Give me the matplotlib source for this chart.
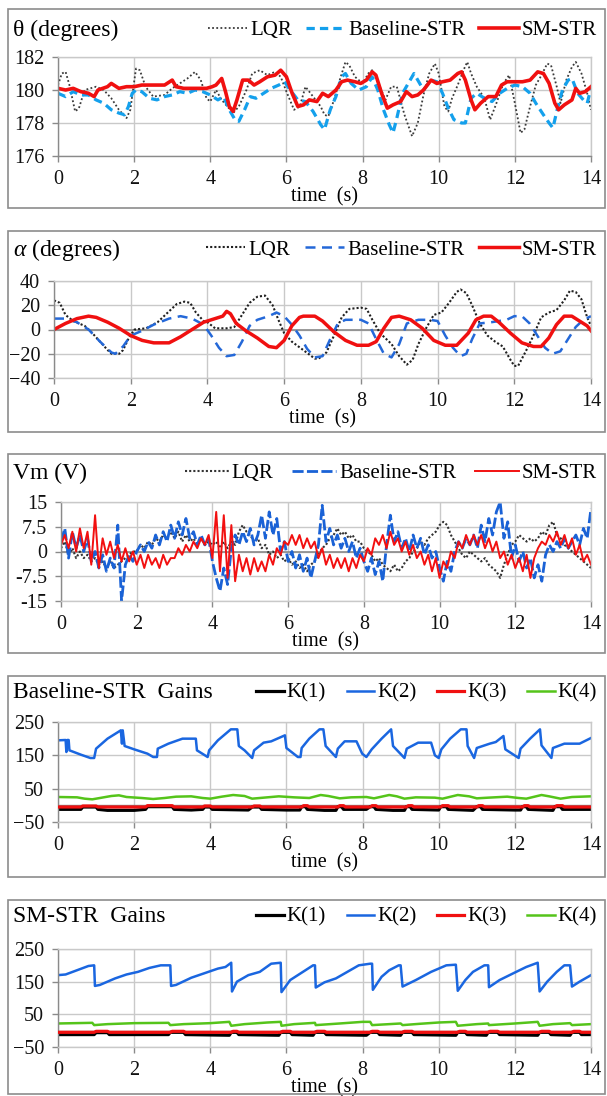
import numpy as np
import matplotlib
matplotlib.use("Agg")
import matplotlib.pyplot as plt
from matplotlib.patches import Rectangle

plt.rcParams['font.family'] = ['Liberation Serif', 'DejaVu Serif']
plt.rcParams['mathtext.fontset'] = 'custom'
plt.rcParams['mathtext.rm'] = 'Liberation Serif'
plt.rcParams['mathtext.it'] = 'Liberation Serif:italic'

W, H = 607, 1096

# ---------------- theta (degrees): (time, value) ----------------
theta_lqr = [(0, 180.3), (0.1, 181.0), (0.2, 181.1), (0.3, 180.3), (0.45, 178.7), (0.55, 178.9),
             (0.7, 180.0), (0.85, 180.1), (1.0, 180.2), (1.2, 180.0), (1.4, 179.5), (1.6, 178.8),
             (1.8, 178.3), (1.9, 178.8), (2.0, 180.5), (2.05, 181.3), (2.15, 181.2), (2.3, 180.2),
             (2.5, 179.6), (2.8, 179.7), (3.0, 180.1), (3.2, 180.4), (3.4, 180.7), (3.6, 181.1),
             (3.75, 180.6), (3.9, 179.5), (4.0, 179.3), (4.15, 180.0), (4.3, 179.4), (4.45, 179.0),
             (4.6, 178.6), (4.75, 179.0), (4.95, 180.0), (5.1, 181.0), (5.3, 181.2), (5.5, 180.9),
             (5.7, 181.1), (5.85, 180.8), (6.0, 179.9), (6.2, 178.8), (6.35, 179.0), (6.5, 180.2),
             (6.7, 179.6), (6.9, 179.0), (7.0, 178.5), (7.1, 178.4), (7.25, 179.4), (7.4, 180.6),
             (7.55, 181.7), (7.65, 181.5), (7.8, 180.8), (8.0, 180.4), (8.15, 181.0), (8.25, 181.2),
             (8.4, 180.5), (8.6, 179.4), (8.75, 180.2), (8.9, 180.2), (9.1, 178.5), (9.3, 177.2),
             (9.45, 178.0), (9.6, 179.7), (9.75, 181.0), (9.9, 181.6), (10.0, 181.0), (10.15, 179.0),
             (10.25, 178.7), (10.35, 179.5), (10.5, 180.3), (10.65, 181.2), (10.75, 181.7), (10.85, 181.0),
             (11.0, 180.2), (11.2, 179.5), (11.35, 178.2), (11.5, 179.1), (11.7, 180.4), (11.85, 180.9),
             (12.0, 179.2), (12.15, 177.4), (12.25, 177.6), (12.4, 179.0), (12.55, 180.3), (12.7, 180.9),
             (12.85, 181.6), (12.95, 181.5), (13.1, 180.2), (13.2, 179.2), (13.35, 180.6), (13.5, 181.4),
             (13.6, 181.7), (13.75, 181.0), (13.9, 179.8), (14.0, 178.8)]

theta_base = [(0, 179.8), (0.2, 179.6), (0.4, 179.9), (0.6, 179.7), (0.8, 179.7), (1.0, 179.4),
              (1.2, 179.2), (1.4, 178.8), (1.6, 178.6), (1.75, 178.5), (1.85, 179.0), (1.95, 179.8),
              (2.05, 180.0), (2.2, 179.9), (2.4, 179.5), (2.6, 179.4), (2.8, 179.6), (3.0, 179.7),
              (3.2, 179.9), (3.4, 179.8), (3.6, 180.0), (3.8, 179.9), (4.0, 179.7), (4.2, 179.4),
              (4.35, 179.6), (4.5, 178.8), (4.65, 178.2), (4.75, 178.1), (4.9, 178.8), (5.05, 179.6),
              (5.2, 179.5), (5.4, 179.8), (5.6, 180.1), (5.8, 180.3), (5.95, 180.5), (6.1, 180.0),
              (6.3, 179.4), (6.5, 179.3), (6.7, 178.7), (6.9, 177.9), (7.0, 177.6), (7.15, 178.8),
              (7.3, 179.6), (7.45, 180.8), (7.55, 181.0), (7.7, 180.4), (7.9, 180.0), (8.1, 180.2),
              (8.25, 180.8), (8.4, 180.0), (8.55, 178.8), (8.7, 177.9), (8.8, 177.4), (8.9, 178.3),
              (9.05, 179.8), (9.2, 180.4), (9.35, 181.0), (9.45, 180.6), (9.6, 180.0), (9.8, 180.6),
              (9.95, 180.5), (10.1, 179.8), (10.25, 178.9), (10.4, 178.2), (10.6, 178.0), (10.7, 178.0),
              (10.85, 179.5), (11.0, 179.8), (11.2, 179.5), (11.4, 179.3), (11.6, 179.8), (11.8, 180.1),
              (12.0, 180.3), (12.2, 180.2), (12.4, 179.8), (12.55, 179.2), (12.75, 178.5), (12.9, 178.0),
              (13.0, 177.7), (13.1, 178.7), (13.25, 180.0), (13.4, 180.6), (13.5, 180.7), (13.65, 179.8),
              (13.8, 179.4), (13.9, 179.2), (14.0, 180.1)]

theta_sm = [(0, 180.1), (0.2, 180.0), (0.4, 180.1), (0.6, 179.9), (0.8, 179.8), (0.95, 179.6),
            (1.05, 180.0), (1.3, 180.2), (1.4, 180.4), (1.6, 180.1), (1.8, 180.2), (2.0, 180.2),
            (2.2, 180.3), (2.5, 180.3), (2.8, 180.3), (3.0, 180.6), (3.1, 180.2), (3.3, 180.1),
            (3.6, 180.1), (3.9, 180.1), (4.05, 180.2), (4.15, 180.3), (4.3, 180.7), (4.4, 179.9),
            (4.5, 179.0), (4.6, 178.7), (4.7, 179.4), (4.85, 180.6), (5.0, 180.6), (5.15, 180.3),
            (5.3, 180.5), (5.5, 180.8), (5.7, 180.9), (5.85, 181.2), (6.0, 180.8), (6.15, 179.8),
            (6.3, 179.0), (6.45, 179.1), (6.6, 179.4), (6.8, 179.3), (6.95, 179.8), (7.1, 179.6),
            (7.3, 180.0), (7.45, 180.5), (7.6, 180.6), (7.8, 180.5), (7.95, 180.4), (8.1, 180.6),
            (8.25, 181.1), (8.35, 180.9), (8.5, 179.8), (8.65, 178.9), (8.8, 179.1), (9.0, 179.3),
            (9.15, 179.9), (9.3, 179.6), (9.45, 179.7), (9.6, 180.0), (9.8, 180.6), (9.95, 180.4),
            (10.1, 180.5), (10.3, 180.6), (10.5, 181.0), (10.6, 181.1), (10.7, 180.6), (10.85, 179.4),
            (10.95, 178.8), (11.1, 179.2), (11.3, 179.6), (11.5, 179.6), (11.65, 180.3), (11.8, 180.5),
            (12.0, 180.5), (12.2, 180.5), (12.4, 180.6), (12.6, 181.1), (12.75, 181.0), (12.9, 180.4),
            (13.05, 179.2), (13.15, 178.8), (13.3, 179.1), (13.5, 179.4), (13.6, 180.1), (13.7, 179.8),
            (13.85, 179.9), (14.0, 180.2)]

# ---------------- alpha (degrees) ----------------
alpha_lqr = [(0, 24), (0.15, 22), (0.3, 12), (0.5, 7), (0.8, 3), (1.0, -3), (1.2, -10), (1.4, -17),
             (1.5, -20), (1.7, -20), (1.8, -17), (1.95, -7), (2.1, 0), (2.4, 1), (2.7, 6), (3.0, 15),
             (3.2, 21), (3.4, 23), (3.55, 22), (3.7, 14), (3.9, 7), (4.0, 6), (4.2, 1), (4.5, 1),
             (4.7, 2), (4.9, 12), (5.1, 22), (5.3, 27), (5.5, 28), (5.7, 20), (5.85, 8), (6.0, -3),
             (6.2, -10), (6.5, -17), (6.8, -24), (6.9, -24), (7.1, -19), (7.3, -5), (7.5, 10),
             (7.7, 17), (8.0, 18), (8.15, 17), (8.3, 8), (8.5, -3), (8.8, -12), (9.0, -22), (9.2, -29),
             (9.35, -25), (9.5, -12), (9.7, 1), (9.9, 12), (10.1, 14), (10.3, 22), (10.5, 31),
             (10.6, 33), (10.75, 30), (10.9, 20), (11.1, 5), (11.3, -5), (11.5, -10), (11.7, -14),
             (11.9, -25), (12.0, -30), (12.1, -30), (12.3, -18), (12.5, -5), (12.7, 10), (12.9, 14),
             (13.1, 16), (13.3, 24), (13.45, 32), (13.6, 31), (13.75, 25), (13.9, 10), (14.0, 3)]

alpha_base = [(0, 9), (0.3, 9), (0.6, 6), (0.9, 0), (1.2, -10), (1.5, -19), (1.6, -20), (1.8, -14),
              (2.0, -5), (2.3, -1), (2.6, 4), (3.0, 9), (3.3, 11), (3.6, 9), (3.9, 4), (4.1, -5),
              (4.3, -15), (4.5, -22), (4.7, -21), (4.9, -10), (5.1, 3), (5.3, 8), (5.6, 11), (5.8, 14),
              (6.0, 11), (6.2, 4), (6.4, -5), (6.6, -16), (6.8, -23), (7.0, -22), (7.2, -8), (7.4, 5),
              (7.6, 8), (8.0, 8), (8.2, 5), (8.4, -8), (8.6, -20), (8.8, -23), (9.0, -12), (9.2, 5),
              (9.5, 8), (9.8, 8), (10.0, 7), (10.2, -5), (10.4, -15), (10.6, -22), (10.75, -20),
              (10.9, -8), (11.1, 5), (11.4, 6), (11.8, 8), (12.0, 11), (12.2, 11), (12.4, 5), (12.6, -5),
              (12.8, -15), (13.0, -20), (13.2, -18), (13.4, -8), (13.6, 2), (13.8, 8), (14.0, 11)]

alpha_sm = [(0, 0), (0.3, 5), (0.6, 9), (0.9, 11), (1.1, 10), (1.4, 6), (1.7, 1), (2.0, -5), (2.3, -9),
            (2.6, -11), (3.0, -11), (3.3, -6), (3.6, 0), (3.9, 6), (4.2, 9), (4.4, 11), (4.5, 15),
            (4.6, 13), (4.75, 5), (5.0, -1), (5.3, -7), (5.6, -14), (5.8, -15), (6.0, -9), (6.2, 3),
            (6.4, 10), (6.5, 11), (6.8, 11), (7.0, 7), (7.3, -2), (7.6, -9), (7.9, -13), (8.2, -13),
            (8.4, -10), (8.6, 1), (8.8, 10), (9.0, 11), (9.3, 8), (9.6, 1), (9.9, -9), (10.2, -13),
            (10.5, -13), (10.8, -3), (11.0, 8), (11.2, 11), (11.4, 11), (11.6, 6), (11.9, -3),
            (12.2, -11), (12.5, -14), (12.7, -14), (12.9, -7), (13.1, 4), (13.3, 11), (13.5, 11),
            (13.7, 7), (13.9, 3), (14.0, -1)]

# ---------------- Vm (V), sampled every 0.1 s ----------------
vm_dt = 0.1
vm_lqr = [1, 3, -1, 1, -2, 0, -2, -1, -3, -2, -4, -3, -5, -3, -5, -4, -3, -2, -1, 0,
          0, 2, 1, 3, 2, 4, 3, 5, 4, 6, 4, 6, 3, 5, 3, 4, 2, 4, 2, 3,
          2, 3, 1, 3, 1, 3, 2, 6, 8, 6, 5, 3, 4, 1, 2, -1, 0, -2, -1, -3,
          -2, -4, -3, -5, -4, -6, -4, -3, -1, 1, 2, 4, 5, 7, 5, 6, 4, 5, 3, 3,
          1, 0, -1, -3, -2, -4, -5, -6, -4, -6, -5, -3, -2, 0, 1, 3, 2, 4, 5, 6,
          8, 9, 8, 5, 3, 1, -1, -2, 0, -1, -2, -3, -2, -4, -5, -6, -8, -4, -1, 2,
          3, 5, 4, 3, 4, 3, 4, 6, 5, 8, 9, 5, 4, 2, 1, 0, -1, -2, -3, -4, -5]
vm_base = [3, 7, -2, 6, 1, 5, 0, 4, -3, 0, -5, -1, -6, -2, -5, 8, -15, -4, -1, -3,
           0, 2, 0, 3, 1, 5, 2, 6, 3, 8, 4, 9, 5, 10, 4, 6, 2, 5, 2, 4,
           -3, -8, -12, -5, -10, 1, 5, 2, 6, 3, 7, 2, 5, 11, 4, 12, 5, 10, 0, 3,
           -3, 0, -5, -1, -6, -2, -8, -3, 2, 14, 3, 7, 2, 5, 1, 4, 0, 3, -2, 1,
           -3, -6, -2, -7, -3, -9, 2, 11, 3, 6, 1, 4, 0, 5, 1, 4, -1, 2, -2, 0,
           -5, -9, -3, -6, 0, 3, 1, 4, 2, 5, 1, 8, 3, 10, 5, 12, 15, 4, 9, -2,
           2, -3, 0, -5, -2, -8, -4, -9, -1, 2, 0, 3, 1, 4, 1, 3, 5, 2, 7, 4, 13]
vm_sm = [2, 5, 1, 6, 0, 7, 1, 6, -4, 11, -5, 4, -1, 3, -2, 2, -3, 1, -3, 0,
         -4, -1, -5, -1, -4, -2, -5, -1, -4, -2, -2, 1, -1, 2, 0, 3, 1, 4, 2, 5,
         -2, 12, -6, 11, -8, 8, -9, -1, -6, -2, -7, -2, -6, -3, -6, -1, -4, 1, -1, 3,
         2, 5, 2, 5, 1, 4, 1, 3, -2, 1, -4, -1, -5, -2, -5, -2, -6, -2, -5, -1,
         -3, 1, -1, 4, 2, 5, 1, 6, 2, 4, 0, 3, -1, 2, -2, 0, -4, -1, -6, -2,
         -8, -3, -5, 0, -2, 3, 1, 5, 2, 5, 2, 5, 1, 4, 0, 3, -2, 0, -4, -1,
         -5, -2, -6, -1, -8, -2, 1, 3, 2, 5, 3, 6, 2, 5, 1, 4, -1, 2, -3, -1, -4]

# ---------------- Baseline-STR gains ----------------
bk1 = [(0, -12), (0.6, -12), (0.65, -5), (1.0, -5), (1.05, -12), (1.3, -15), (2.0, -15), (2.3, -12),
       (2.35, -4), (3.0, -4), (3.05, -12), (3.5, -14), (3.8, -12), (3.85, -5), (4.0, -5), (4.05, -12),
       (5.0, -14), (5.1, -5), (5.3, -5), (5.35, -12), (6.0, -14), (6.35, -14), (6.4, -4), (6.5, -4),
       (6.55, -12), (7.0, -15), (7.3, -15), (7.35, -4), (7.45, -4), (7.5, -12), (8.1, -12), (8.2, -4),
       (8.3, -4), (8.35, -12), (8.8, -15), (9.1, -15), (9.15, -4), (9.25, -4), (9.3, -12), (10.0, -14),
       (10.05, -4), (10.2, -4), (10.25, -12), (10.9, -15), (11.0, -4), (11.1, -4), (11.15, -12),
       (12.0, -14), (12.15, -14), (12.2, -4), (12.3, -4), (12.35, -12), (13.0, -15), (13.05, -4),
       (13.2, -4), (13.25, -12), (14.0, -12)]
bk2 = [(0, 195), (0.2, 196), (0.22, 160), (0.24, 196), (0.28, 196), (0.3, 165), (0.6, 152),
       (0.85, 142), (0.95, 142), (1.0, 170), (1.3, 200), (1.65, 225), (1.68, 185), (1.7, 225),
       (1.75, 178), (2.0, 168), (2.35, 155), (2.5, 145), (2.6, 145), (2.62, 170), (2.9, 185),
       (3.27, 200), (3.62, 200), (3.65, 165), (3.93, 145), (3.97, 165), (4.2, 195), (4.54, 228),
       (4.71, 228), (4.75, 178), (4.9, 165), (5.1, 142), (5.15, 165), (5.4, 188), (5.6, 192),
       (5.96, 210), (6.0, 172), (6.3, 145), (6.37, 145), (6.4, 172), (6.6, 200), (6.87, 228),
       (6.97, 228), (7.03, 178), (7.3, 145), (7.35, 170), (7.53, 192), (7.84, 192), (7.99, 155),
       (8.1, 145), (8.24, 168), (8.5, 200), (8.75, 228), (8.8, 178), (9.1, 142), (9.16, 170),
       (9.46, 188), (9.8, 188), (9.9, 150), (10.0, 142), (10.07, 168), (10.3, 200), (10.58, 228),
       (10.73, 228), (10.76, 178), (10.93, 142), (11.0, 172), (11.34, 185), (11.5, 190), (11.7, 208),
       (11.75, 168), (12.1, 142), (12.15, 170), (12.4, 200), (12.66, 228), (12.7, 180), (12.96, 142),
       (13.0, 172), (13.3, 185), (13.7, 185), (14.0, 202)]
bk3 = [(0, -5), (0.6, -5), (0.65, -2), (1.0, -2), (1.05, -5), (2.3, -5), (2.35, -1), (3.0, -1),
       (3.05, -5), (3.8, -5), (3.85, -2), (4.0, -2), (4.05, -5), (5.1, -5), (5.15, -2), (5.3, -2),
       (5.35, -5), (6.4, -5), (6.45, -1), (6.55, -1), (6.6, -5), (7.35, -5), (7.4, -1), (7.5, -1),
       (7.55, -5), (8.2, -5), (8.25, -1), (8.35, -1), (8.4, -5), (9.15, -5), (9.2, -1), (9.3, -1),
       (9.35, -5), (10.05, -5), (10.1, -1), (10.25, -1), (10.3, -5), (11.0, -5), (11.05, -1),
       (11.15, -1), (11.2, -5), (12.2, -5), (12.25, -1), (12.35, -1), (12.4, -5), (13.05, -5),
       (13.1, -1), (13.25, -1), (13.3, -5), (14.0, -5)]
bk4 = [(0, 25), (0.5, 24), (0.7, 20), (0.9, 18), (1.1, 22), (1.4, 28), (1.6, 30), (1.8, 25),
       (2.2, 22), (2.5, 19), (2.8, 22), (3.1, 26), (3.5, 27), (3.8, 22), (4.0, 20), (4.3, 26),
       (4.6, 31), (4.9, 28), (5.1, 20), (5.3, 22), (5.8, 27), (6.2, 24), (6.6, 22), (6.9, 31),
       (7.1, 28), (7.4, 21), (7.7, 24), (8.1, 25), (8.3, 21), (8.7, 31), (8.9, 27), (9.1, 20),
       (9.4, 24), (9.9, 23), (10.1, 20), (10.5, 31), (10.8, 27), (11.0, 21), (11.3, 23), (11.8, 26),
       (12.1, 22), (12.3, 20), (12.7, 31), (12.9, 27), (13.2, 20), (13.5, 25), (14.0, 27)]

# ---------------- SM-STR gains ----------------
sk1 = [(0, -12), (0.95, -12), (1.0, -6), (1.3, -6), (1.35, -12), (2.9, -12), (2.95, -5), (3.3, -5),
       (3.35, -12), (4.5, -14), (4.55, -5), (4.7, -5), (4.75, -12), (5.8, -14), (5.85, -5), (6.1, -5),
       (6.15, -12), (6.7, -14), (6.75, -5), (7.0, -5), (7.05, -12), (8.1, -14), (8.2, -5), (8.4, -5),
       (8.45, -12), (9.0, -14), (9.05, -5), (9.3, -5), (9.35, -12), (10.45, -14), (10.5, -5),
       (10.7, -5), (10.75, -12), (11.25, -14), (11.3, -5), (11.55, -5), (11.6, -12), (12.6, -14),
       (12.65, -5), (12.9, -5), (12.95, -12), (13.45, -14), (13.5, -5), (13.7, -5), (13.75, -12),
       (14.0, -12)]
sk2 = [(0, 170), (0.2, 172), (0.5, 185), (0.8, 198), (0.95, 200), (0.97, 137), (1.1, 140),
       (1.5, 160), (1.8, 172), (2.1, 180), (2.4, 192), (2.7, 200), (2.95, 200), (2.97, 137),
       (3.1, 140), (3.5, 162), (3.9, 178), (4.2, 190), (4.4, 195), (4.55, 208), (4.57, 120),
       (4.7, 150), (5.0, 170), (5.3, 180), (5.6, 205), (5.85, 208), (5.87, 118), (6.1, 155),
       (6.5, 185), (6.7, 200), (6.75, 200), (6.77, 132), (7.0, 148), (7.3, 160), (7.6, 180),
       (7.9, 200), (8.2, 205), (8.25, 205), (8.27, 125), (8.5, 165), (8.7, 185), (8.95, 200),
       (9.0, 200), (9.05, 135), (9.4, 155), (9.8, 180), (10.2, 200), (10.45, 202), (10.5, 122),
       (10.7, 155), (10.9, 180), (11.2, 200), (11.3, 200), (11.32, 133), (11.6, 155), (12.0, 178),
       (12.3, 195), (12.6, 208), (12.65, 120), (12.85, 150), (13.1, 180), (13.3, 200), (13.45, 200),
       (13.5, 135), (13.7, 150), (14.0, 170)]
sk3 = [(0, -5), (0.95, -5), (1.0, -2), (1.3, -2), (1.35, -5), (2.95, -5), (3.0, -2), (3.3, -2),
       (3.35, -5), (4.55, -5), (4.6, -2), (4.7, -2), (4.75, -5), (5.85, -5), (5.9, -2), (6.1, -2),
       (6.15, -5), (6.75, -5), (6.8, -2), (7.0, -2), (7.05, -5), (8.2, -5), (8.25, -2), (8.4, -2),
       (8.45, -5), (9.05, -5), (9.1, -2), (9.3, -2), (9.35, -5), (10.5, -5), (10.55, -2), (10.7, -2),
       (10.75, -5), (11.3, -5), (11.35, -2), (11.55, -2), (11.6, -5), (12.65, -5), (12.7, -2),
       (12.9, -2), (12.95, -5), (13.5, -5), (13.55, -2), (13.7, -2), (13.75, -5), (14.0, -5)]
sk4 = [(0, 22), (0.9, 24), (0.95, 17), (1.3, 20), (2.0, 23), (2.9, 24), (2.95, 17), (3.3, 20),
       (4.0, 23), (4.5, 27), (4.55, 15), (4.9, 20), (5.5, 25), (5.85, 27), (5.87, 15), (6.2, 20),
       (6.75, 24), (6.77, 17), (7.4, 22), (8.0, 27), (8.2, 27), (8.25, 17), (8.7, 20), (9.0, 22),
       (9.05, 17), (9.5, 21), (10.0, 25), (10.45, 27), (10.5, 15), (11.0, 20), (11.3, 22),
       (11.32, 17), (12.0, 22), (12.6, 27), (12.65, 15), (13.0, 20), (13.45, 23), (13.5, 17),
       (14.0, 20)]

xticks = [0, 2, 4, 6, 8, 10, 12, 14]
ctrl_names = ['LQR', 'Baseline-STR', 'SM-STR']
gain_names = ['K(1)', 'K(2)', 'K(3)', 'K(4)']

GRID = '#c9c9c9'
AXC = '#8a8a8a'


def xy(pairs):
    a = np.array(pairs, dtype=float)
    return a[:, 0], a[:, 1]


def make_axes(fig, left, right, top, bottom, box_top, box_bottom):
    fig.add_artist(Rectangle((8 / W, 1 - box_bottom / H), 597 / W, (box_bottom - box_top) / H,
                             transform=fig.transFigure, fill=False, edgecolor='#8c8c8c', lw=1.2))
    ax = fig.add_axes([left / W, 1 - bottom / H, (right - left) / W, (bottom - top) / H])
    ax.set_xlim(0, 14)
    ax.set_xticks(xticks)
    ax.grid(True, color=GRID, lw=1.0)
    ax.set_axisbelow(True)
    for s in ax.spines.values():
        s.set_color(GRID)
        s.set_linewidth(1.0)
    ax.spines['left'].set_color(AXC)
    ax.tick_params(axis='both', labelsize=14.5, colors='#111111', length=4, width=1, pad=6)
    ax.tick_params(axis='both', color=AXC)
    ax.set_xlabel('time  (s)', fontsize=14.5, labelpad=-1)
    return ax


def legend(ax, handles, labels, ycen, handlelength, colsp):
    ax.legend(handles, labels, loc='center right', bbox_to_anchor=(597 / W, 1 - ycen / H),
              bbox_transform=ax.figure.transFigure, ncol=len(handles), frameon=False,
              fontsize=15, handlelength=handlelength, handletextpad=0.15, columnspacing=colsp,
              borderpad=0, borderaxespad=0)


fig = plt.figure(figsize=(W / 100, H / 100), dpi=100)

# ---- panel 1: theta ----
ax1 = make_axes(fig, 58, 591, 57, 156, 9, 208)
ax1.set_ylim(176, 182)
ax1.set_yticks([176, 178, 180, 182])
ax1.spines['bottom'].set_color(AXC)
t, v = xy(theta_lqr)
l1, = ax1.plot(t, v, color='#3a3a3a', lw=1.3, ls=(0, (1, 1.3)))
t, v = xy(theta_base)
l2, = ax1.plot(t, v, color='#14a0ec', lw=2.3, ls=(0, (2.6, 1.6)))
t, v = xy(theta_sm)
l3, = ax1.plot(t, v, color='#f01010', lw=2.6)
fig.text(13 / W, 1 - 30 / H, 'θ (degrees)', fontsize=17, va='center', ha='left')
legend(ax1, [l1, l2, l3], ctrl_names, 30, 1.9, 0.65)

# ---- panel 2: alpha ----
ax2 = make_axes(fig, 54, 591, 281, 378, 231, 432)
ax2.set_ylim(-40, 40)
ax2.set_yticks([-40, -20, 0, 20, 40])
ax2.axhline(0, color=AXC, lw=1.2, zorder=1)
t, v = xy(alpha_lqr)
l1, = ax2.plot(t, v, color='#202020', lw=1.5, ls=(0, (1, 1)))
t, v = xy(alpha_base)
l2, = ax2.plot(t, v, color='#2468d8', lw=1.8, ls=(0, (4, 2.6)))
t, v = xy(alpha_sm)
l3, = ax2.plot(t, v, color='#f01010', lw=2.5)
fig.text(13 / W, 1 - 250 / H, r'$\alpha$ (degrees)', fontsize=17, va='center', ha='left')
legend(ax2, [l1, l2, l3], ctrl_names, 250, 1.9, 0.7)

# ---- panel 3: Vm ----
ax3 = make_axes(fig, 61, 591, 502, 601, 454, 653)
ax3.set_ylim(-15, 15)
ax3.set_yticks([-15, -7.5, 0, 7.5, 15])
ax3.set_yticklabels(['-15', '-7.5', '0', '7.5', '15'])
ax3.axhline(0, color=AXC, lw=1.2, zorder=1)
tv = np.arange(len(vm_lqr)) * vm_dt
l1, = ax3.plot(tv, vm_lqr, color='#333333', lw=1.5, ls=(0, (1, 1)))
tv = np.arange(len(vm_base)) * vm_dt
l2, = ax3.plot(tv, vm_base, color='#1a62d6', lw=2.0, ls=(0, (4, 1.2)))
tv = np.arange(len(vm_sm)) * vm_dt
l3, = ax3.plot(tv, vm_sm, color='#f21010', lw=1.4)
fig.text(13 / W, 1 - 473 / H, 'Vm (V)', fontsize=17, va='center', ha='left')
legend(ax3, [l1, l2, l3], ctrl_names, 473, 2.1, 0.9)

# ---- panels 4 and 5: gains ----
gain_cols = ['#000000', '#1a66e0', '#f01010', '#55c41a']
gain_lws = [2.3, 1.8, 2.3, 1.8]
for (top, bottom, bt, bb, title, series) in [
        (722, 822, 676, 877, 'Baseline-STR  Gains', [bk1, bk2, bk3, bk4]),
        (949, 1047, 900, 1094, 'SM-STR  Gains', [sk1, sk2, sk3, sk4])]:
    ax = make_axes(fig, 58, 591, top, bottom, bt, bb)
    ax.set_ylim(-50, 250)
    ax.set_yticks([-50, 50, 150, 250])
    ax.axhline(0, color=AXC, lw=1.0, zorder=1)
    hs = []
    for pairs, col, lw in zip(series, gain_cols, gain_lws):
        t, v = xy(pairs)
        h, = ax.plot(t, v, color=col, lw=lw)
        hs.append(h)
    hs[2].set_zorder(4)
    ycen = bt + 17
    fig.text(13 / W, 1 - ycen / H, title, fontsize=17, va='center', ha='left')
    legend(ax, hs, gain_names, ycen, 1.3, 1.0)

fig.savefig('out.png', dpi=100)
